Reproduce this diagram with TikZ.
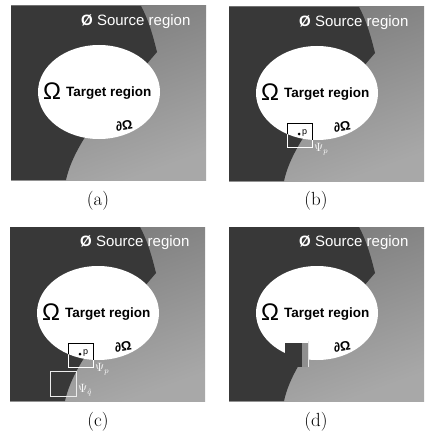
\documentclass[tikz,border=0pt]{standalone}
\usepackage{fontspec}
\newfontfamily\lsans{Liberation Sans}
\definecolor{darkreg}{gray}{0.22}
\definecolor{lighttop}{gray}{0.48}
\definecolor{lightbot}{gray}{0.66}
\definecolor{patchlight}{gray}{0.56}
\tikzset{
  srctext/.style={text=white,font=\lsans\fontsize{15}{15}\selectfont,anchor=west,inner sep=0pt},
  omegatext/.style={font=\lsans\fontsize{24}{24}\selectfont,inner sep=0pt},
  targettext/.style={font=\lsans\bfseries\fontsize{13.5}{14}\selectfont,anchor=west,inner sep=0pt},
  bdtext/.style={font=\lsans\bfseries\fontsize{13}{13}\selectfont,inner sep=0pt,rotate=10},
  captext/.style={font=\fontsize{19}{19}\selectfont,inner sep=0pt},
  ptext/.style={font=\lsans\fontsize{9}{9}\selectfont,inner sep=0pt,anchor=west},
  psitext/.style={text=white,font=\fontsize{12}{12}\selectfont,inner sep=0pt,anchor=west},
  patchbox/.style={line width=0.7pt},
}
\newcommand\darkregion{(0,0) -- (130,0) .. controls (138,15) and (142,30) .. (146,46) -- (76,128) .. controls (65,145) and (58,160) .. (55,174) -- (0,174) -- cycle}
\newcommand\targetellipse{(88,86) ellipse [x radius=61, y radius=47]}
\newcommand\basepanel[1]{%
  \shade[top color=lighttop,bottom color=lightbot,shading angle=20] (0,0) rectangle (195,174);
  \fill[darkreg] \darkregion;
  \fill[white] \targetellipse;
  \node[srctext] (#1-src) at (70,16) {{\bfseries Ø} Source region};
  \node[omegatext] (#1-omega) at (41,85) {Ω};
  \node[targettext] (#1-target) at (55,87) {Target region};
  \node[bdtext] (#1-bd) at (113,120) {∂Ω};
}
\newcommand\patchp[1]{%
  \draw[patchbox,white] (58,116) rectangle (83,140);
  \begin{scope}
    \clip \targetellipse;
    \draw[patchbox,black] (58,116) rectangle (83,140);
  \end{scope}
  \fill (70,127) circle (1.5);
  \node[ptext] (#1-p) at (73,126) {p};
  \node[psitext] (#1-psip) at (85,142) {$\Psi_p$};
}
\begin{document}
\begin{tikzpicture}[x=1pt,y=-1pt]
\useasboundingbox (0,0) rectangle (424,436);
\fill[white] (0,0) rectangle (424,436);
% (a)
\begin{scope}[shift={(11,6)}]
  \basepanel{a}
  \node[captext] (a-cap) at (87,195) {(a)};
\end{scope}
% (b)
\begin{scope}[shift={(229,7)}]
  \basepanel{b}
  \patchp{b}
  \node[captext] (b-cap) at (87,194) {(b)};
\end{scope}
% (c)
\begin{scope}[shift={(10,227)}]
  \basepanel{c}
  \patchp{c}
  \draw[patchbox,white!85!gray] (40,144) rectangle (66,169);
  \node[psitext] (c-psiq) at (68,163) {$\Psi_{\hat q}$};
  \node[captext] (c-cap) at (88,195) {(c)};
\end{scope}
% (d)
\begin{scope}[shift={(229,227)}]
  \basepanel{d}
  \fill[darkreg] (56,116) rectangle (73,140);
  \fill[patchlight] (73,116) rectangle (80,140);
  \draw[white!80!gray,line width=0.6pt] (79,114) -- (79,140);
  \node[captext] (d-cap) at (87,195) {(d)};
\end{scope}
\end{tikzpicture}
\end{document}
